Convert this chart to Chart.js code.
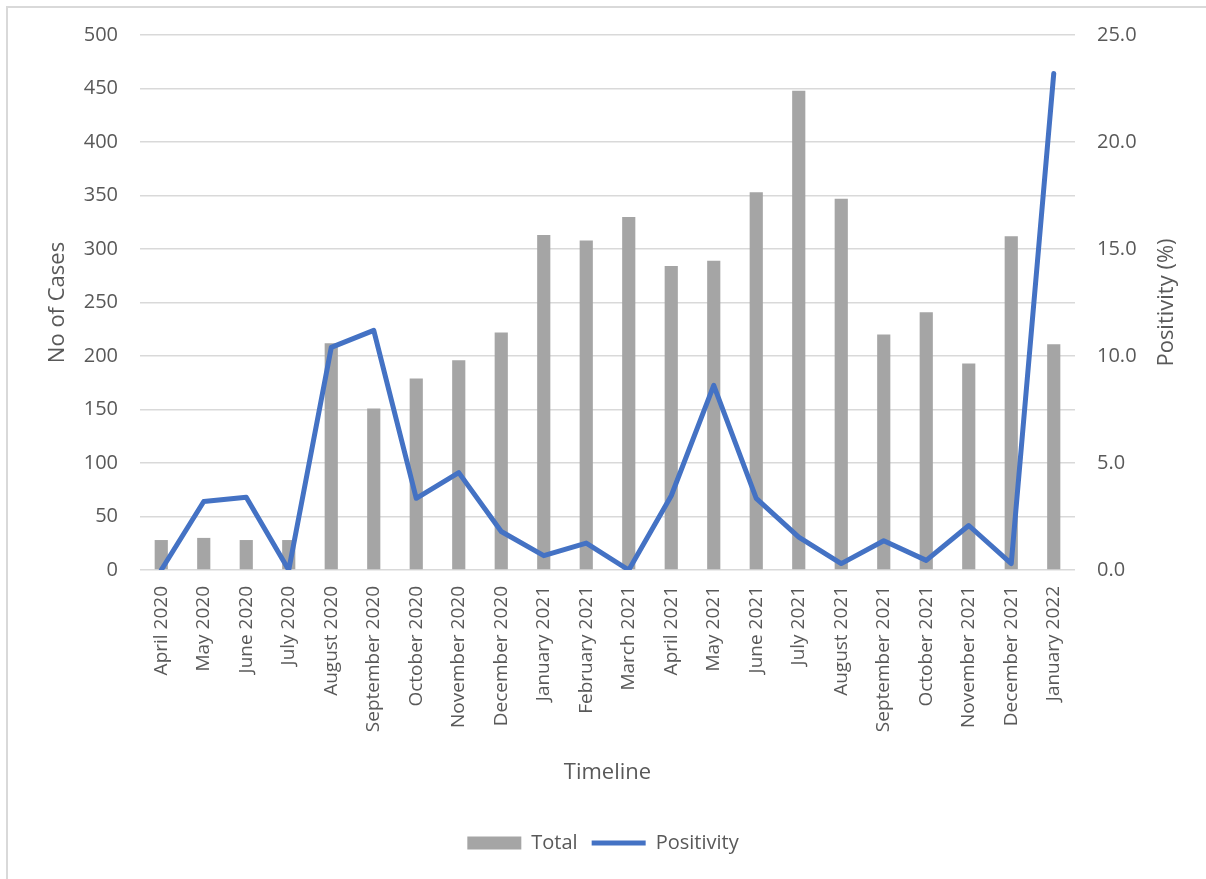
<!DOCTYPE html>
<html>
<head>
<meta charset="utf-8">
<script src="https://cdn.jsdelivr.net/npm/chart.js@4"></script>
<style>
  body { margin: 0; background: #fff; overflow: hidden; }
  #frame { position: absolute; left: 6px; top: 6px; width: 1400px; height: 1100px; border: 2px solid #d9d9d9; }
  #wrap { position: absolute; left: 0; top: 0; width: 1206px; height: 879px; }
</style>
</head>
<body>
<div id="frame"></div>
<div id="wrap"><canvas id="myChart"></canvas></div>
<script>
const months = ["April 2020", "May 2020", "June 2020", "July 2020", "August 2020", "September 2020",
  "October 2020", "November 2020", "December 2020", "January 2021", "February 2021", "March 2021",
  "April 2021", "May 2021", "June 2021", "July 2021", "August 2021", "September 2021",
  "October 2021", "November 2021", "December 2021", "January 2022"];
const totalCases = [28, 30, 28, 28, 212, 151, 179, 196, 222, 313, 308, 330,
  284, 289, 353, 448, 347, 220, 241, 193, 312, 211];
const positivity = [0, 3.2, 3.4, 0, 10.4, 11.2, 3.35, 4.55, 1.8, 0.67, 1.26, 0,
  3.47, 8.63, 3.35, 1.54, 0.3, 1.37, 0.45, 2.08, 0.3, 23.2];
const rightTitle = 'Positivity (%)';

const textGray = '#595959';
const gridGray = '#d9d9d9';
Chart.defaults.font.family = "'Open Sans', sans-serif";
Chart.defaults.color = textGray;

// right axis title reads bottom-to-top like Excel, chart.js turns it the other way
const rightTitlePlugin = {
  id: 'rightTitle',
  afterDraw(chart) {
    const c = chart.ctx;
    const area = chart.chartArea;
    c.save();
    c.translate(1167, (area.top + area.bottom) / 2);
    c.rotate(-Math.PI / 2);
    c.font = "22px 'Open Sans', sans-serif";
    c.fillStyle = textGray;
    c.textAlign = 'center';
    c.textBaseline = 'middle';
    c.fillText(rightTitle, 0, 0);
    c.restore();
  }
};

const ctx = document.getElementById('myChart').getContext('2d');
const chart = new Chart(ctx, {
  type: 'bar',
  data: {
    labels: months,
    datasets: [{
      label: 'Total',
      data: totalCases,
      backgroundColor: '#a5a5a5',
      borderWidth: 0,
      categoryPercentage: 1,
      barPercentage: 0.31,
      yAxisID: 'y',
      pointStyle: 'rect',
      order: 1
    }, {
      type: 'line',
      label: 'Positivity',
      data: positivity,
      borderColor: '#4472c4',
      backgroundColor: '#4472c4',
      borderWidth: 5,
      borderCapStyle: 'round',
      borderJoinStyle: 'round',
      pointRadius: 0,
      tension: 0,
      yAxisID: 'y1',
      pointStyle: 'line',
      order: 0
    }]
  },
  options: {
    responsive: true,
    maintainAspectRatio: false,
    animation: false,
    layout: { padding: { top: 35, left: 0, right: 0, bottom: 16 } },
    plugins: {
      tooltip: { enabled: false },
      legend: {
        position: 'bottom',
        labels: {
          usePointStyle: true,
          pointStyleWidth: 54,
          boxHeight: 13,
          padding: 14,
          font: { size: 20 },
          color: textGray,
          sort: (a, b) => a.datasetIndex - b.datasetIndex
        }
      }
    },
    scales: {
      x: {
        grid: { display: false },
        border: { display: false },
        ticks: { minRotation: 90, maxRotation: 90, padding: 8, font: { size: 19 }, autoSkip: false },
        title: { display: true, text: 'Timeline', font: { size: 22 }, padding: { top: 0, bottom: 33 } },
        afterFit: scale => { scale.height = 249; }
      },
      y: {
        position: 'left',
        min: 0, max: 500,
        ticks: { stepSize: 50, padding: 22, font: { size: 20 } },
        grid: { color: gridGray, lineWidth: 1.5, drawTicks: false },
        border: { display: false },
        title: { display: true, text: 'No of Cases', font: { size: 22 }, padding: { top: 45, bottom: 0 } },
        afterFit: scale => { scale.width = 140; }
      },
      y1: {
        position: 'right',
        min: 0, max: 25,
        ticks: { stepSize: 5, padding: 22, font: { size: 20 }, callback: v => v.toFixed(1) },
        grid: { drawOnChartArea: false, drawTicks: false },
        border: { display: false },
        title: { display: false },
        afterFit: scale => { scale.width = 131; }
      }
    }
  },
  plugins: [rightTitlePlugin]
});
</script>
</body>
</html>
